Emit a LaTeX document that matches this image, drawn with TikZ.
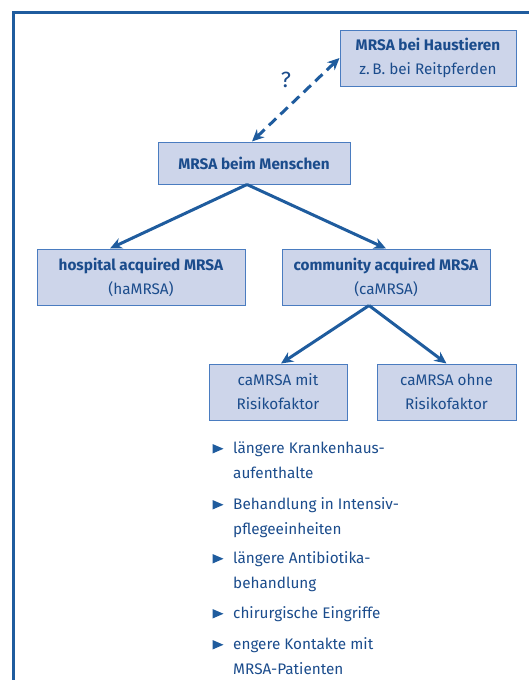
\documentclass[tikz,border=0pt]{standalone}
\usepackage{fontspec}
\setmainfont{Fira Sans}
\usetikzlibrary{arrows.meta,positioning}

\definecolor{frameblue}{HTML}{1F5C9E}
\definecolor{boxfill}{HTML}{CDD5EA}
\definecolor{boxline}{HTML}{4A7CC0}
\definecolor{textblue}{HTML}{1B4C8C}

\tikzset{
  box/.style={draw=boxline, fill=boxfill, text=textblue, align=center,
    inner sep=0pt, line width=1pt, font=\fontsize{15.3}{24}\selectfont},
  link/.style={-{Stealth[length=12pt,width=11pt]}, draw=frameblue, line width=3pt},
  item/.style={text=textblue, align=left, inner sep=0pt,
    font=\fontsize{15.3}{25}\selectfont}
}

\begin{document}
\begin{tikzpicture}[x=1pt,y=-1pt]
  \useasboundingbox (0,0) rectangle (529,680);
  \clip (0,0) rectangle (529,680);
  % outer frame, open to the right and bottom
  \draw[frameblue, line width=3pt] (13,700) -- (13,12) -- (560,12);

  % boxes
  \node[box, minimum width=176pt, minimum height=56pt] (haus) at (428,58)
    {\textbf{MRSA bei Haustieren}\\z.\,B. bei Reitpferden};
  \node[box, minimum width=192pt, minimum height=42pt] (mensch) at (254,163)
    {\textbf{MRSA beim Menschen}};
  \node[box, minimum width=208pt, minimum height=56pt] (hosp) at (141,277)
    {\textbf{hospital acquired MRSA}\\(haMRSA)};
  \node[box, minimum width=208pt, minimum height=56pt] (comm) at (386,277)
    {\textbf{community acquired MRSA}\\(caMRSA)};
  \node[box, minimum width=138pt, minimum height=56pt] (mit) at (278,392)
    {caMRSA mit\\Risikofaktor};
  \node[box, minimum width=139pt, minimum height=56pt] (ohne) at (446.5,392)
    {caMRSA ohne\\Risikofaktor};

  % connections
  \draw[link, {Stealth[length=12pt,width=11pt]}-{Stealth[length=12pt,width=11pt]},
    dash pattern=on 10pt off 6pt] ([xshift=-2pt]mensch.north) -- (haus.west);
  \node[text=textblue, font=\fontsize{22}{22}\selectfont] (frage) at (286,80) {?};
  \draw[link] ([xshift=-7pt]mensch.south) -- ([xshift=-31pt]hosp.north);
  \draw[link] ([xshift=-7pt]mensch.south) -- (comm.north);
  \draw[link] ([xshift=-17pt]comm.south) -- ([xshift=3pt]mit.north);
  \draw[link] ([xshift=-17pt]comm.south) -- (ohne.north);

  % risk factors (\y: first baseline, \b: last baseline)
  \foreach \y/\b/\name/\txt in {
      453/478/krank/{längere Krankenhaus-\\aufenthalte},
      509/534/intens/{Behandlung in Intensiv-\\pflegeeinheiten},
      563/588/anti/{längere Antibiotika-\\behandlung},
      618/618/chir/{chirurgische Eingriffe},
      649/674/kont/{engere Kontakte mit\\MRSA-Patienten}} {
    \node[item, anchor=base west] (\name) at (233,\b) {\txt};
    \fill[frameblue] (212.5,\y-9) -- (212.5,\y+0.5) -- (223.5,\y-4.25) -- cycle;
  }
\end{tikzpicture}
\end{document}
